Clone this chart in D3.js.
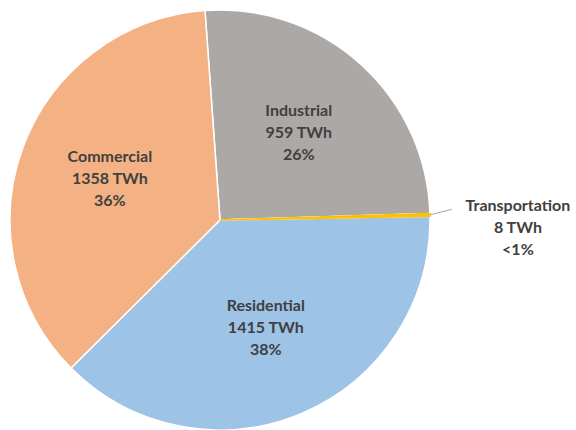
<!DOCTYPE html>
<html>
<head>
<meta charset="utf-8">
<script src="https://d3js.org/d3.v7.min.js"></script>
<style>
  body { margin: 0; background: #fff; }
  text { font-family: Lato, "Open Sans", sans-serif; font-weight: bold; fill: #404040; }
</style>
</head>
<body>
<svg id="chart"></svg>
<script>
// Data
var categories = ["Industrial", "Transportation", "Residential", "Commercial"];
var values = [959, 8, 1415, 1358];
var colors = ["#aba8a6", "#ffc000", "#9dc3e6", "#f4b183"];

var width = 576, height = 430;
var cx = 220, cy = 220, radius = 210;
var total = d3.sum(values);
var startAngle = -4.1 * Math.PI / 180;

var svg = d3.select("#chart").attr("width", width).attr("height", height);
var g = svg.append("g").attr("transform", "translate(" + cx + "," + cy + ")");

var rows = categories.map(function (c, i) { return { name: c, value: values[i], color: colors[i] }; });

var pie = d3.pie().sort(null).value(function (d) { return d.value; })
    .startAngle(startAngle).endAngle(startAngle + 2 * Math.PI);
var arc = d3.arc().innerRadius(0).outerRadius(radius);
var labelArc = d3.arc().innerRadius(radius * 0.56).outerRadius(radius * 0.56);

var arcs = pie(rows);

g.selectAll("path.slice").data(arcs).enter().append("path")
    .attr("class", "slice")
    .attr("d", arc)
    .attr("fill", function (d) { return d.data.color; })
    .attr("stroke", "#fff")
    .attr("stroke-width", 1.5);

// Transportation slice is thin, draw it a bit thicker
g.selectAll("path.thin").data(arcs.filter(function (d) { return d.data.value / total < 0.01; }))
    .enter().append("path")
    .attr("d", arc)
    .attr("fill", function (d) { return d.data.color; })
    .attr("stroke", function (d) { return d.data.color; })
    .attr("stroke-width", 1.5);

function pct(v) {
    var p = v / total * 100;
    return p < 1 ? "<1%" : Math.round(p) + "%";
}

arcs.forEach(function (d) {
    var small = d.data.value / total < 0.01;
    var lx, ly;
    var mid = (d.startAngle + d.endAngle) / 2;
    if (small) {
        var p0 = [Math.sin(mid) * radius, -Math.cos(mid) * radius];
        var p1 = [Math.sin(mid) * (radius + 22), -Math.cos(mid) * (radius + 22) - 5];
        g.append("line")
            .attr("x1", p0[0]).attr("y1", p0[1])
            .attr("x2", p1[0]).attr("y2", p1[1])
            .attr("stroke", "#a6a6a6").attr("stroke-width", 1);
        lx = p1[0] + 66;
        ly = p1[1] + 19;
    } else {
        var c = labelArc.centroid(d);
        lx = c[0]; ly = c[1];
    }
    var t = g.append("text").attr("text-anchor", "middle")
        .attr("font-size", 16);
    var lines = [d.data.name, d.data.value + " TWh", pct(d.data.value)];
    lines.forEach(function (s, i) {
        t.append("tspan").attr("x", lx).attr("y", ly + (i - 1) * 22 + 5).text(s);
    });
});
</script>
</body>
</html>
